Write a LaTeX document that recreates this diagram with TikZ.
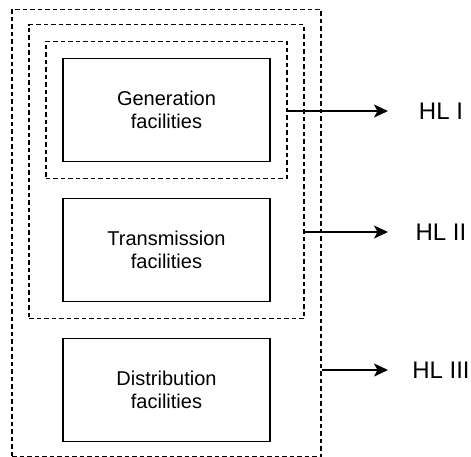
\documentclass[tikz,border=0pt]{standalone}
\usepackage{fontspec}
\setmainfont{Liberation Sans}
\usepackage{tikz}
\usetikzlibrary{arrows.meta, positioning, fit}
\tikzstyle{facbox} = [rectangle, minimum width=207pt, minimum height=103pt, align=center,
  draw=black, line width=1.5pt, font=\fontsize{20}{23}\selectfont]
\tikzstyle{levelbox} = [rectangle, draw=black, dash pattern=on 4.5pt off 3pt, line width=1.3pt, inner sep=16.3pt]
\tikzstyle{hllabel} = [font=\fontsize{24}{28}\selectfont]
\tikzstyle{arrow} = [-{Stealth[length=14pt,width=13pt,inset=3.5pt]}, line width=1.4pt]

\begin{document}
\begin{tikzpicture}[node distance=35.5pt]
  \useasboundingbox (0,0) rectangle (471pt,-456pt);
  \node (gen) [facbox] at (166.5pt,-110pt) {Generation\\facilities};
  \node (trans) [facbox, below=of gen] {Transmission\\facilities};
  \node (dist) [facbox, below=of trans] {Distribution\\facilities};

  \node (lev1) [levelbox, fit=(gen)] {};
  \node (lev2) [levelbox, fit=(lev1)(trans)] {};
  \node (lev3) [levelbox, inner ysep=14.5pt, fit=(lev2)(dist)] {};

  \node (hl1) [hllabel] at (441pt,-111pt) {HL I};
  \node (hl2) [hllabel] at (441pt,-232pt) {HL II};
  \node (hl3) [hllabel] at (441pt,-370pt) {HL III};
  \coordinate (tip) at (388pt,0);

  \draw[arrow] (lev1.east |- hl1)--(tip |- hl1);
  \draw[arrow] (lev2.east |- hl2)--(tip |- hl2);
  \draw[arrow] (lev3.east |- hl3)--(tip |- hl3);
\end{tikzpicture}
\end{document}
